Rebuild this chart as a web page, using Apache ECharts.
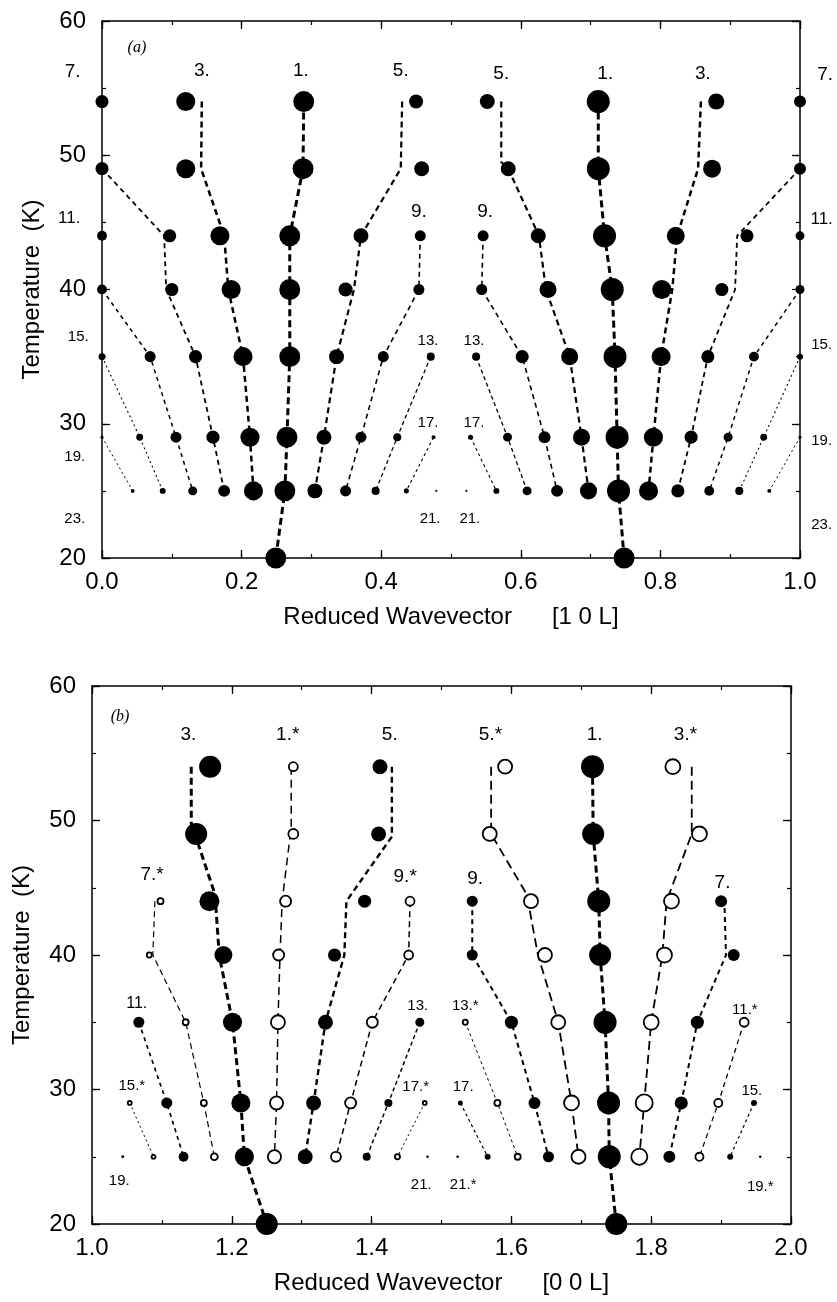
<!DOCTYPE html>
<html><head><meta charset="utf-8">
<script src="https://cdn.jsdelivr.net/npm/echarts@6/dist/echarts.min.js"></script>
<style>html,body{margin:0;padding:0;background:#fff}#c{width:837px;height:1302px}</style>
</head><body><div id="c"></div>
<script>
// ---------- Panel (a): peaks [q, T(K), relative intensity] ----------
const a1L = [[0.289,54,.91],[0.288,49,.91],[0.269,44,.91],[0.269,40,.91],[0.269,35,.91],[0.265,29,.91],[0.262,25,.91],[0.249,20,.91]];
const a1R = [[0.711,54,1],[0.711,49,1],[0.720,44,1],[0.731,40,1],[0.735,35,1],[0.738,29,1],[0.740,25,1],[0.748,20,.91]];
const a3L = [[0.120,54,.83],[0.120,49,.83],[0.169,44,.83],[0.185,40,.83],[0.202,35,.83],[0.212,29,.83],[0.217,25,.83]];
const a3R = [[0.880,54,.70],[0.874,49,.78],[0.822,44,.78],[0.802,40,.83],[0.801,35,.83],[0.790,29,.83],[0.783,25,.83]];
const a5L = [[0.450,54,.61],[0.458,49,.65],[0.371,44,.65],[0.349,40,.61],[0.336,35,.65],[0.318,29,.65],[0.305,25,.65]];
const a5R = [[0.552,54,.65],[0.582,49,.65],[0.625,44,.65],[0.639,40,.74],[0.670,35,.74],[0.687,29,.74],[0.697,25,.74]];
const a7L = [[0.0,54,.57],[0.0,49,.57],[0.097,44,.57],[0.100,40,.57],[0.134,35,.57],[0.159,29,.57],[0.175,25,.52]];
const a7R = [[1.0,54,.52],[1.0,49,.52],[0.924,44,.57],[0.888,40,.57],[0.868,35,.57],[0.844,29,.57],[0.825,25,.57]];
const a9L = [[0.456,44,.48],[0.454,40,.48],[0.403,35,.48],[0.371,29,.48],[0.349,25,.48]];
const a9R = [[0.546,44,.48],[0.544,40,.48],[0.602,35,.57],[0.634,29,.52],[0.652,25,.52]];
const a11L = [[0.0,44,.43],[0.0,40,.43],[0.069,35,.48],[0.106,29,.48],[0.130,25,.39]];
const a11R = [[1.0,44,.39],[1.0,40,.39],[0.934,35,.43],[0.897,29,.39],[0.870,25,.43]];
const a13L = [[0.471,35,.35],[0.423,29,.35],[0.392,25,.35]];
const a13R = [[0.536,35,.35],[0.581,29,.39],[0.609,25,.39]];
const a15L = [[0.0,35,.30],[0.054,29,.30],[0.087,25,.26]];
const a15R = [[1.0,35,.26],[0.948,29,.30],[0.913,25,.35]];
const a17L = [[0.475,29,.17],[0.436,25,.22]];
const a17R = [[0.528,29,.22],[0.565,25,.26]];
const a19L = [[0.0,29,.13],[0.044,25,.17]];
const a19R = [[1.0,29,.13],[0.956,25,.17]];
const a21L = [[0.479,25,.09]];
const a21R = [[0.522,25,.09]];
// guide lines (a) that do not pass through the peaks [q, T]
const a3Lline = [[0.143,54],[0.142,49],[0.175,44],[0.181,40],[0.202,35],[0.212,29],[0.217,25]];
const a5Lline = [[0.430,54],[0.428,49],[0.371,44],[0.361,40],[0.336,35],[0.318,29],[0.305,25]];
const a7Lline = [[0.0,49],[0.089,44],[0.092,40],[0.134,35],[0.159,29],[0.175,25]];
const a5Rline = [[0.572,54],[0.572,49.5],[0.582,49],[0.626,44],[0.636,40],[0.670,35],[0.687,29],[0.697,25]];
const a3Rline = [[0.858,54],[0.854,49],[0.824,44],[0.817,40],[0.801,35],[0.790,29],[0.783,25]];
const a7Rline = [[1.0,49],[0.910,44],[0.907,40],[0.868,35],[0.844,29],[0.825,25]];

// ---------- Panel (b): filled peaks ----------
const b1  = [[1.716,54,1],[1.717,49,.96],[1.725,44,1],[1.727,40,.96],[1.734,35,1],[1.739,29,1],[1.740,25,1],[1.750,20,.96]];
const b3  = [[1.169,54,.96],[1.149,49,.96],[1.168,44,.87],[1.188,40,.78],[1.201,35,.83],[1.213,29,.83],[1.218,25,.83],[1.250,20,.96]];
const b5  = [[1.412,54,.65],[1.410,49,.65],[1.390,44,.57],[1.347,40,.57],[1.334,35,.65],[1.317,29,.65],[1.305,25,.65]];
const b7  = [[1.900,44,.52],[1.918,40,.52],[1.866,35,.57],[1.843,29,.57],[1.826,25,.52]];
const b9  = [[1.544,44,.48],[1.544,40,.48],[1.600,35,.57],[1.633,29,.52],[1.653,25,.48]];
const b11 = [[1.067,35,.48],[1.107,29,.48],[1.131,25,.43]];
const b13 = [[1.469,35,.39],[1.424,29,.35],[1.393,25,.35]];
const b15 = [[1.947,29,.26],[1.913,25,.26]];
const b17 = [[1.527,29,.22],[1.566,25,.26]];
const b19 = [[1.044,25,.13]];
const b21 = [[1.480,25,.11]];
const b19s = [[1.956,25,.11]];
const b21s = [[1.523,25,.11]];
// panel (b): open (starred) peaks
const b1s  = [[1.288,54,.39],[1.288,49,.43],[1.277,44,.48],[1.267,40,.48],[1.266,35,.61],[1.264,29,.57],[1.261,25,.57]];
const b3s  = [[1.831,54,.65],[1.869,49,.65],[1.829,44,.65],[1.819,40,.65],[1.800,35,.65],[1.790,29,.74],[1.783,25,.70]];
const b5s  = [[1.591,54,.61],[1.569,49,.61],[1.628,44,.61],[1.648,40,.61],[1.667,35,.61],[1.686,29,.65],[1.696,25,.61]];
const b7s  = [[1.098,44,.26],[1.082,40,.22],[1.134,35,.26],[1.160,29,.26],[1.175,25,.30]];
const b9s  = [[1.455,44,.39],[1.453,40,.39],[1.401,35,.48],[1.370,29,.48],[1.349,25,.43]];
const b11s = [[1.933,35,.39],[1.896,29,.35],[1.869,25,.35]];
const b13s = [[1.534,35,.22],[1.580,29,.26],[1.609,25,.26]];
const b15s = [[1.054,29,.17],[1.088,25,.17]];
const b17s = [[1.476,29,.17],[1.437,25,.22]];
// guide lines (b)
const b3line  = [[1.142,54],[1.142,49.8],[1.176,44.5],[1.182,40],[1.201,35],[1.213,29],[1.218,25],[1.250,20]];
const b1sline = [[1.285,54],[1.285,49.5],[1.272,44],[1.269,40],[1.266,35],[1.264,29],[1.261,25]];
const b5line  = [[1.429,54],[1.429,48.8],[1.364,44],[1.361,40],[1.334,35],[1.317,29],[1.305,25]];
const b5sline = [[1.571,54],[1.571,49],[1.622,44.5],[1.638,40],[1.667,35],[1.686,29],[1.696,25]];
const b3sline = [[1.858,54],[1.858,49],[1.822,44],[1.816,40],[1.800,35],[1.790,29],[1.783,25]];
const b7sline = [[1.090,44],[1.087,40],[1.134,35],[1.160,29],[1.175,25]];
const b7line  = [[1.905,43.5],[1.907,40],[1.866,35],[1.843,29],[1.826,25]];

// ---------- annotations [text, q, T] ----------
const labA_big = [['7.',-0.042,56.2],['3.',0.143,56.3],['1.',0.285,56.3],['5.',0.428,56.3],['5.',0.572,56.1],['1.',0.721,56.1],['3.',0.861,56.1],['7.',1.036,56.0],['9.',0.454,45.8],['9.',0.549,45.8]];
const labA_mid = [['11.',-0.047,45.3],['11.',1.031,45.2]];
const labA_small = [['15.',-0.034,36.5],['15.',1.031,35.9],['13.',0.467,36.2],['13.',0.533,36.2],['17.',0.467,30.05],['17.',0.533,30.05],['19.',-0.039,27.5],['19.',1.031,28.7],['21.',0.470,22.9],['21.',0.527,22.9],['23.',-0.039,22.9],['23.',1.031,22.5]];
const labB_big = [['3.',1.138,56.4],['1.*',1.280,56.4],['5.',1.426,56.4],['5.*',1.570,56.4],['1.',1.719,56.4],['3.*',1.849,56.4],['7.*',1.086,45.95],['9.*',1.448,45.8],['9.',1.548,45.65],['7.',1.902,45.4]];
const labB_mid = [['11.',1.064,36.4]];
const labB_small = [['13.',1.466,36.2],['13.*',1.534,36.2],['11.*',1.934,35.9],['15.*',1.057,30.3],['17.*',1.463,30.2],['17.',1.531,30.2],['15.',1.944,29.9],['19.',1.039,23.2],['21.',1.471,22.9],['21.*',1.531,22.9],['19.*',1.956,22.75]];
const panelTags = [['(a)',0.050,58.0,0],['(b)',1.040,57.7,1]];

const xNames = ['Reduced Wavevector      [1 0 L]', 'Reduced Wavevector      [0 0 L]'];
const yName = 'Temperature  (K)';
const xRanges = [[0,1],[1,2]];
const yRange = [20,60];

// ---------- styling / build ----------
const FONT = "'Liberation Sans', Arial, Helvetica, sans-serif";
const SIZE = 23;
const grids = [
  {left:102, top:21, width:698, height:537},
  {left:92, top:686, width:699, height:538}
];
const xAxes = [], yAxes = [];
[0,1].forEach(g => {
  const base = {gridIndex:g, type:'value', splitLine:{show:false}};
  const line = {show:true, onZero:false, lineStyle:{color:'#000', width:1.5}};
  const noLine = {show:false, onZero:false};
  const tickMaj = {show:true, inside:true, length:8, lineStyle:{color:'#000', width:1.3}};
  const tickMin = {show:true, inside:true, length:4, lineStyle:{color:'#000', width:1.2}};
  const xr = xRanges[g];
  xAxes.push(Object.assign({}, base, {min:xr[0], max:xr[1], interval:0.2, position:'bottom', axisLine:line, axisTick:tickMaj,
    axisLabel:{fontSize:24, color:'#000', fontFamily:FONT, margin:12, formatter:v=>v.toFixed(1)},
    name:xNames[g], nameLocation:'middle', nameGap:47, nameTextStyle:{fontSize:24, color:'#000', fontFamily:FONT}}));
  xAxes.push(Object.assign({}, base, {min:xr[0], max:xr[1], interval:0.1, position:'bottom', axisLine:noLine, axisTick:tickMin, axisLabel:{show:false}}));
  xAxes.push(Object.assign({}, base, {min:xr[0], max:xr[1], interval:0.2, position:'top', axisLine:line, axisTick:tickMaj, axisLabel:{show:false}}));
  xAxes.push(Object.assign({}, base, {min:xr[0], max:xr[1], interval:0.1, position:'top', axisLine:noLine, axisTick:tickMin, axisLabel:{show:false}}));
  yAxes.push(Object.assign({}, base, {min:yRange[0], max:yRange[1], interval:10, position:'left', axisLine:line, axisTick:tickMaj,
    axisLabel:{fontSize:24, color:'#000', fontFamily:FONT, margin:16},
    name:yName, nameLocation:'middle', nameGap:58, nameTextStyle:{fontSize:24, color:'#000', fontFamily:FONT}}));
  yAxes.push(Object.assign({}, base, {min:yRange[0], max:yRange[1], interval:5, position:'left', axisLine:noLine, axisTick:tickMin, axisLabel:{show:false}}));
  yAxes.push(Object.assign({}, base, {min:yRange[0], max:yRange[1], interval:10, position:'right', axisLine:line, axisTick:tickMaj, axisLabel:{show:false}}));
  yAxes.push(Object.assign({}, base, {min:yRange[0], max:yRange[1], interval:5, position:'right', axisLine:noLine, axisTick:tickMin, axisLabel:{show:false}}));
});

const series = [];
function dots(data, g, open) {
  series.push({type:'scatter', xAxisIndex:4*g, yAxisIndex:4*g, data:data, symbol:'circle',
    symbolSize: v => SIZE * v[2], clip:false, silent:true, z:3,
    itemStyle: open ? {color:'#fff', borderColor:'#000', borderWidth:1.8, opacity:1} : {color:'#000', opacity:1}});
}
function guide(pts, g, w, dash) {
  series.push({type:'line', xAxisIndex:4*g, yAxisIndex:4*g, data:pts.map(p=>[p[0],p[1]]), symbol:'none',
    silent:true, z:2, lineStyle:{color:'#000', width:w, type:dash, opacity:1}});
}
function labels(arr, g, size, family, style) {
  series.push({type:'scatter', xAxisIndex:4*g, yAxisIndex:4*g, symbolSize:0, clip:false, silent:true, z:4,
    itemStyle:{color:'rgba(0,0,0,0)', opacity:1},
    data: arr.map(a => ({name:a[0], value:[a[1], a[2]]})),
    label:{show:true, position:'inside', formatter:'{b}', color:'#000', opacity:1, fontSize:size, fontFamily:family || FONT, fontStyle: style || 'normal'}});
}

// panel (a) guides
[[a1L,3,[7,4]],[a1R,3,[7,4]],[a3Lline,2.5,[6,4]],[a3Rline,2.5,[6,4]],[a5Lline,2.2,[6,4]],[a5Rline,2.2,[6,4]],
 [a7Lline,1.8,[5,4]],[a7Rline,1.8,[5,4]],[a9L,1.6,[5,4]],[a9R,1.6,[5,4]],[a11L.slice(1),1.5,[4,4]],[a11R.slice(1),1.5,[4,4]],
 [a13L,1.3,[4,3]],[a13R,1.3,[4,3]],[a15L,1.1,[2,3]],[a15R,1.1,[2,3]],[a17L,1.1,[3,3]],[a17R,1.1,[3,3]],[a19L,1,[2,3]],[a19R,1,[2,3]]
].forEach(s => guide(s[0], 0, s[1], s[2]));
[a1L,a1R,a3L,a3R,a5L,a5R,a7L,a7R,a9L,a9R,a11L,a11R,a13L,a13R,a15L,a15R,a17L,a17R,a19L,a19R,a21L,a21R].forEach(d => dots(d, 0, false));

// panel (b) guides
[[b1,3,[7,4]],[b3line,3,[7,4]],[b5line,2.4,[6,4]],[b7line,2,[5,4]],[b9,2,[5,4]],[b11,1.7,[4,4]],[b13,1.5,[4,3]],[b15,1.2,[3,3]],[b17,1.2,[3,3]],
 [b1sline,1.5,[8,5]],[b5sline,1.8,[9,5]],[b3sline,1.8,[9,5]],[b7sline,1.2,[6,4]],[b9s,1.5,[6,4]],[b11s,1.3,[5,4]],[b13s,1,[3,3]],[b15s,1,[2,3]],[b17s,1,[2,3]]
].forEach(s => guide(s[0], 1, s[1], s[2]));
[b1,b3,b5,b7,b9,b11,b13,b15,b17,b19,b21,b19s,b21s].forEach(d => dots(d, 1, false));
[b1s,b3s,b5s,b7s,b9s,b11s,b13s,b15s,b17s].forEach(d => dots(d, 1, true));

labels(labA_big, 0, 19); labels(labA_mid, 0, 17); labels(labA_small, 0, 15);
labels(labB_big, 1, 19); labels(labB_mid, 1, 16); labels(labB_small, 1, 15);
panelTags.forEach(t => labels([[t[0], t[1], t[2]]], t[3], 16, "'Liberation Serif', 'Times New Roman', serif", 'italic'));

const chart = echarts.init(document.getElementById('c'), null, {renderer:'canvas'});
chart.setOption({animation:false, backgroundColor:'#fff', grid:grids, xAxis:xAxes, yAxis:yAxes, series:series});
</script></body></html>
